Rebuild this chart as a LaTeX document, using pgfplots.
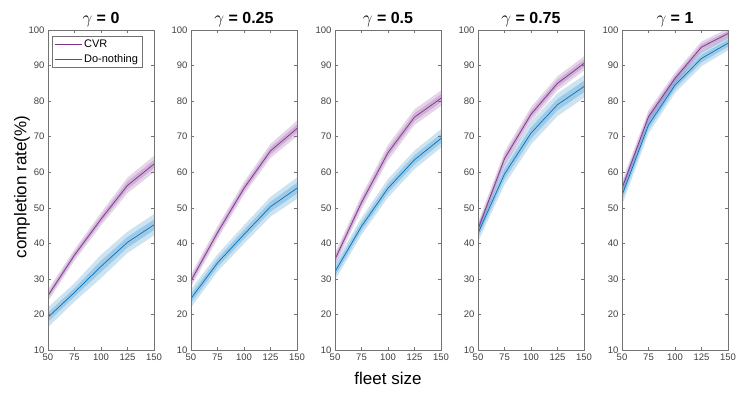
\documentclass[border=0pt]{standalone}
\usepackage{pgfplots}
\pgfplotsset{compat=1.18}
\usepackage{fontspec}
\setmainfont{Liberation Sans}
\definecolor{cvr}{RGB}{126,47,142}
\definecolor{dn}{RGB}{0,114,189}
\pgfplotsset{
  panel/.style={
    scale only axis, width=106pt, height=320pt, anchor=south west,
    xmin=50, xmax=150, ymin=10, ymax=100,
    xtick={50,75,100,125,150}, ytick={10,20,...,100},
    tick align=inside, major tick length=3pt,
    axis line style={black!55, line width=0.5pt},
    tick style={black!55, line width=0.5pt},
    tick label style={font=\fontsize{9.5}{10}\selectfont, text=black!75},
    /pgf/number format/assume math mode=true,
    title style={font=\fontsize{16}{18}\selectfont\bfseries, at={(0.5,1)}, anchor=south, yshift=-6pt},
    axis on top,
  },
  ob/.style={draw=none, fill=#1, fill opacity=0.2, forget plot},
  ib/.style={draw=none, fill=#1, fill opacity=0.22, forget plot},
  mid/.style={line width=0.7pt, color=#1, mark=none},
}
\begin{document}
\begin{tikzpicture}
\path[use as bounding box] (0pt,0pt) rectangle (747pt,393pt);

% gamma = 0
\begin{axis}[panel, at={(48pt,43pt)}, title={$\gamma$ = 0},
  legend style={at={(0.035,0.981)}, anchor=north west, draw=black!55, line width=0.5pt,
    font=\fontsize{11}{13}\selectfont, inner xsep=2.5pt, inner ysep=1.5pt, row sep=1.5pt},
  legend cell align=left]
\addlegendimage{legend image code/.code={\draw[cvr, line width=0.7pt] (0pt,0pt) -- (27pt,0pt);}}
\addlegendentry{CVR}
\addlegendimage{legend image code/.code={\draw[dn, line width=0.7pt] (0pt,0pt) -- (27pt,0pt);}}
\addlegendentry{Do-nothing}
\addplot[ob=cvr] coordinates {(50,23.7) (75,35.1) (100,45.0) (125,54.1) (150,60.0) (150,64.6) (125,58.5) (100,48.6) (75,38.3) (50,26.9)};
\addplot[ib=cvr] coordinates {(50,24.5) (75,35.9) (100,45.9) (125,55.2) (150,61.2) (150,63.4) (125,57.4) (100,47.7) (75,37.5) (50,26.1)};
\addplot[ob=dn] coordinates {(50,16.4) (75,23.6) (100,30.2) (125,37.3) (150,42.2) (150,48.2) (125,43.3) (100,36.8) (75,28.8) (50,22.0)};
\addplot[ib=dn] coordinates {(50,17.9) (75,25.0) (100,31.9) (125,38.8) (150,43.7) (150,46.7) (125,41.8) (100,35.1) (75,27.4) (50,20.5)};
\addplot[mid=cvr, forget plot] coordinates {(50,25.3) (75,36.7) (100,46.8) (125,56.3) (150,62.3)};
\addplot[mid=dn, forget plot] coordinates {(50,19.2) (75,26.2) (100,33.5) (125,40.3) (150,45.2)};
\end{axis}

% gamma = 0.25
\begin{axis}[panel, at={(191pt,43pt)}, title={$\gamma$ = 0.25}]
\addplot[ob=cvr] coordinates {(50,27.7) (75,41.2) (100,53.7) (125,64.0) (150,70.1) (150,74.5) (125,68.0) (100,57.3) (75,44.8) (50,31.3)};
\addplot[ib=cvr] coordinates {(50,28.6) (75,42.1) (100,54.6) (125,65.0) (150,71.2) (150,73.4) (125,67.0) (100,56.4) (75,43.9) (50,30.4)};
\addplot[ob=dn] coordinates {(50,21.9) (75,32.1) (100,39.9) (125,47.5) (150,52.5) (150,58.5) (125,53.1) (100,45.1) (75,36.9) (50,27.1)};
\addplot[ib=dn] coordinates {(50,23.2) (75,33.3) (100,41.2) (125,48.9) (150,54.0) (150,57.0) (125,51.7) (100,43.8) (75,35.7) (50,25.8)};
\addplot[mid=cvr] coordinates {(50,29.5) (75,43.0) (100,55.5) (125,66.0) (150,72.3)};
\addplot[mid=dn] coordinates {(50,24.5) (75,34.5) (100,42.5) (125,50.3) (150,55.5)};
\end{axis}

% gamma = 0.5
\begin{axis}[panel, at={(335pt,43pt)}, title={$\gamma$ = 0.5}]
\addplot[ob=cvr] coordinates {(50,33.7) (75,49.5) (100,63.3) (125,73.3) (150,78.6) (150,83.0) (125,77.7) (100,67.7) (75,53.5) (50,37.3)};
\addplot[ib=cvr] coordinates {(50,34.6) (75,50.5) (100,64.4) (125,74.4) (150,79.7) (150,81.9) (125,76.6) (100,66.6) (75,52.5) (50,36.4)};
\addplot[ob=dn] coordinates {(50,29.6) (75,42.4) (100,52.9) (125,60.9) (150,66.9) (150,72.1) (125,66.1) (100,58.1) (75,47.2) (50,34.4)};
\addplot[ib=dn] coordinates {(50,30.8) (75,43.6) (100,54.2) (125,62.2) (150,68.2) (150,70.8) (125,64.8) (100,56.8) (75,46.0) (50,33.2)};
\addplot[mid=cvr] coordinates {(50,35.5) (75,51.5) (100,65.5) (125,75.5) (150,80.8)};
\addplot[mid=dn] coordinates {(50,32.0) (75,44.8) (100,55.5) (125,63.5) (150,69.5)};
\end{axis}

% gamma = 0.75
\begin{axis}[panel, at={(478pt,43pt)}, title={$\gamma$ = 0.75}]
\addplot[ob=cvr] coordinates {(50,42.2) (75,61.8) (100,74.3) (125,83.0) (150,88.6) (150,92.6) (125,87.0) (100,78.3) (75,65.8) (50,45.8)};
\addplot[ib=cvr] coordinates {(50,43.1) (75,62.8) (100,75.3) (125,84.0) (150,89.6) (150,91.6) (125,86.0) (100,77.3) (75,64.8) (50,44.9)};
\addplot[ob=dn] coordinates {(50,40.4) (75,56.5) (100,67.8) (125,75.8) (150,80.9) (150,87.3) (125,82.2) (100,74.2) (75,62.5) (50,45.2)};
\addplot[ib=dn] coordinates {(50,41.6) (75,58.0) (100,69.4) (125,77.4) (150,82.5) (150,85.7) (125,80.6) (100,72.6) (75,61.0) (50,44.0)};
\addplot[mid=cvr] coordinates {(50,44.0) (75,63.8) (100,76.3) (125,85.0) (150,90.6)};
\addplot[mid=dn] coordinates {(50,42.8) (75,59.5) (100,71.0) (125,79.0) (150,84.1)};
\end{axis}

% gamma = 1
\begin{axis}[panel, at={(622pt,43pt)}, title={$\gamma$ = 1}]
\addplot[ob=cvr] coordinates {(50,53.5) (75,73.8) (100,84.8) (125,93.6) (150,97.6) (150,100.4) (125,96.8) (100,88.0) (75,77.4) (50,57.5)};
\addplot[ib=cvr] coordinates {(50,54.5) (75,74.7) (100,85.6) (125,94.4) (150,98.3) (150,99.7) (125,96.0) (100,87.2) (75,76.5) (50,56.5)};
\addplot[ob=dn] coordinates {(50,50.7) (75,70.9) (100,82.3) (125,89.8) (150,94.3) (150,98.3) (125,94.2) (100,86.7) (75,75.7) (50,56.3)};
\addplot[ib=dn] coordinates {(50,52.1) (75,72.1) (100,83.4) (125,90.9) (150,95.3) (150,97.3) (125,93.1) (100,85.6) (75,74.5) (50,54.9)};
\addplot[mid=cvr] coordinates {(50,55.5) (75,75.6) (100,86.4) (125,95.2) (150,99.0)};
\addplot[mid=dn] coordinates {(50,53.5) (75,73.3) (100,84.5) (125,92.0) (150,96.3)};
\end{axis}

\node[rotate=90, font=\fontsize{17}{20}\selectfont] at (22pt,206pt) {completion rate(\%)};
\node[font=\fontsize{17}{20}\selectfont] at (388pt,15pt) {fleet size};
\end{tikzpicture}
\end{document}
